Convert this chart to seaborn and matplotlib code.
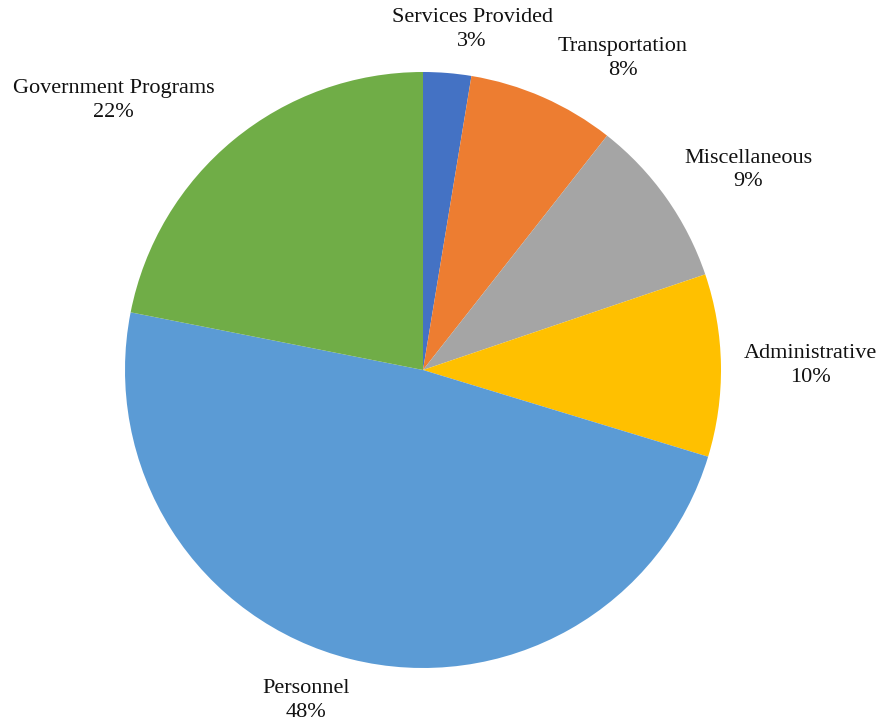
import numpy as np
import matplotlib
matplotlib.use("Agg")
import matplotlib.pyplot as plt
import seaborn as sns

# Data (clockwise from top)
categories = ['Services Provided', 'Transportation', 'Miscellaneous',
              'Administrative', 'Personnel', 'Government Programs']
shares = [2.6, 8.0, 9.2, 9.9, 48.4, 21.9]
colors = ['#4472C4', '#ED7D31', '#A5A5A5', '#FFC000', '#5B9BD5', '#70AD47']

# label placement (degrees clockwise from top, distance in radii)
label_angle = [8.2, 32.7, 58.4, 89.3, 199.5, 311.1]
label_dist = [1.153, 1.241, 1.281, 1.299, 1.175, 1.377]

sns.set_theme(style='white')
plt.rcParams['font.family'] = ['Liberation Serif', 'DejaVu Serif']

fig = plt.figure(figsize=(8.81, 7.27), dpi=100)
cx, cy, r = 423, 370, 298
ax = fig.add_axes([(cx - r) / 881, (727 - cy - r) / 727, 2 * r / 881, 2 * r / 727])

ax.pie(shares, colors=colors, startangle=90, counterclock=False,
       wedgeprops=dict(linewidth=0))

total = sum(shares)
for name, val, a, d in zip(categories, shares, label_angle, label_dist):
    t = np.deg2rad(a)
    ax.text(d * np.sin(t), d * np.cos(t), f"{name}\n{val / total * 100:.0f}%",
            ha='center', va='center', fontsize=16, color='#111111',
            linespacing=1.35, clip_on=False)

ax.set_xlim(-1, 1)
ax.set_ylim(-1, 1)
ax.set_aspect('auto')
ax.axis('off')

fig.savefig('out.png', dpi=100)
